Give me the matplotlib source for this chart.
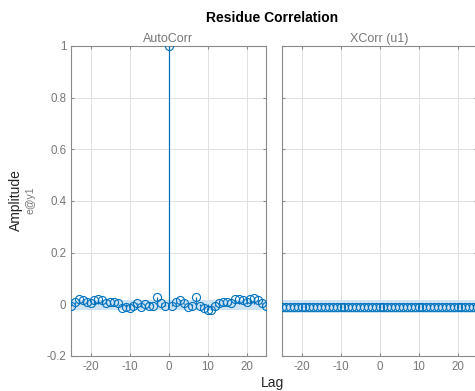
import matplotlib
matplotlib.use("Agg")
import matplotlib.pyplot as plt
import numpy as np

plt.rcParams['font.family'] = ['Liberation Sans', 'DejaVu Sans']
plt.rcParams['axes.unicode_minus'] = False

lags = list(range(-25, 26))
auto_corr = [-0.005, 0.01, 0.02, 0.015, 0.01, 0.005, 0.015, 0.02, 0.015, 0.005,
             0.01, 0.01, 0.005, -0.015, -0.01, -0.015, -0.005, 0.005, -0.01, 0.0,
             -0.005, -0.005, 0.03, 0.005, -0.005, 1.0, -0.005, 0.01, 0.015, 0.005,
             -0.01, -0.005, 0.03, -0.005, -0.015, -0.02, -0.02, -0.005, 0.005, 0.01,
             0.01, 0.005, 0.02, 0.02, 0.015, 0.01, 0.02, 0.025, 0.015, 0.005, -0.005]
xcorr_u1 = [-0.009, -0.009, -0.010, -0.009, -0.009, -0.010, -0.009, -0.009, -0.009, -0.010,
            -0.009, -0.009, -0.010, -0.009, -0.009, -0.009, -0.010, -0.009, -0.009, -0.009,
            -0.010, -0.009, -0.009, -0.009, -0.010, -0.009, -0.009, -0.009, -0.010, -0.009,
            -0.009, -0.009, -0.010, -0.009, -0.009, -0.009, -0.010, -0.009, -0.009, -0.009,
            -0.010, -0.009, -0.009, -0.009, -0.010, -0.009, -0.009, -0.009, -0.010, -0.009, -0.009]
auto_band = (-0.02, 0.016)
xcorr_band = (-0.032, 0.017)
x_ticks = [-20, -10, 0, 10, 20]
y_ticks = [-0.2, 0, 0.2, 0.4, 0.6, 0.8, 1]
y_tick_labels = ['-0.2', '0', '0.2', '0.4', '0.6', '0.8', '1']

line_color = '#0072BD'
band_color = '#CDE3F4'
gray = '#777777'

fig = plt.figure(figsize=(4.75, 3.91), dpi=100)
ax1 = fig.add_axes([71/475, 35/391, 195/475, 310/391])
ax2 = fig.add_axes([282/475, 35/391, 195/475, 310/391])

for ax, vals, band, sub in [(ax1, auto_corr, auto_band, 'AutoCorr'),
                            (ax2, xcorr_u1, xcorr_band, 'XCorr (u1)')]:
    ax.fill_between([-25, 25], band[0], band[1], color=band_color, lw=0, zorder=1)
    ml, sl, bl = ax.stem(lags, vals, basefmt=' ')
    plt.setp(sl, color=line_color, lw=0.9, zorder=3)
    plt.setp(ml, marker='o', markersize=5.8, markerfacecolor='none',
             markeredgecolor=line_color, markeredgewidth=0.8, zorder=4)
    ax.set_xlim(-25, 25)
    ax.set_ylim(-0.2, 1)
    ax.set_xticks(x_ticks)
    ax.set_yticks(y_ticks)
    ax.grid(True, color='#e0e0e0', lw=0.7, zorder=0)
    ax.set_axisbelow(True)
    for s in ax.spines.values():
        s.set_color('#8a8a8a')
        s.set_linewidth(0.8)
    ax.tick_params(direction='in', length=2.5, colors='#8a8a8a', labelcolor=gray,
                   labelsize=8.3, top=True, right=True)
    ax.set_title(sub, fontsize=9, color=gray, pad=3)

ax1.set_yticklabels(y_tick_labels)
ax2.set_yticklabels([])

fig.text(272/475, 1 - 18/391, 'Residue Correlation', ha='center', va='center',
         fontsize=10, fontweight='bold', color='black')
fig.text(273/475, 1 - 383/391, 'Lag', ha='center', va='center', fontsize=10, color='#262626')
fig.text(16/475, 1 - 200/391, 'Amplitude', ha='center', va='center', rotation=90,
         fontsize=10, color='#262626')
fig.text(31/475, 1 - 200/391, 'e@y1', ha='center', va='center', rotation=90,
         fontsize=7.5, color=gray)

fig.savefig('out.png', dpi=100)
